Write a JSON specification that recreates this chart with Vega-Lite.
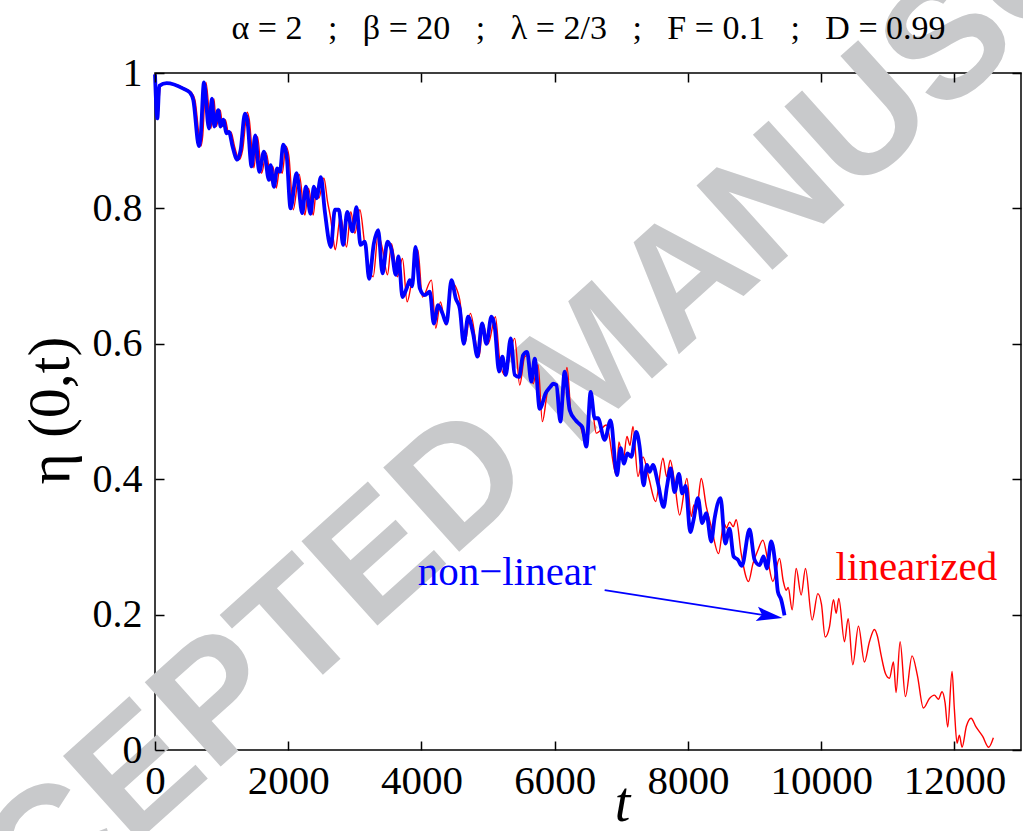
{
  "$schema": "https://vega.github.io/schema/vega-lite/v6.json",
  "width": 866,
  "height": 677,
  "autosize": {"type": "none"},
  "padding": {"left": 155, "top": 73, "right": 2, "bottom": 81},
  "background": "white",
  "config": {
    "view": {"stroke": "black", "strokeWidth": 1.5},
    "font": "Liberation Serif"
  },
  "datasets": {
    "linearized": [
      {"t":0,"eta":0.998},{"t":40,"eta":0.933},{"t":80,"eta":0.981},{"t":200,"eta":0.985},{"t":450,"eta":0.977},{"t":550,"eta":0.971},{"t":600,"eta":0.96},{"t":690,"eta":0.892},{"t":715,"eta":0.906},{"t":765,"eta":0.986},{"t":840,"eta":0.918},{"t":885,"eta":0.962},{"t":920,"eta":0.921},{"t":980,"eta":0.945},{"t":1015,"eta":0.921},{"t":1055,"eta":0.931},{"t":1105,"eta":0.911},{"t":1140,"eta":0.913},{"t":1195,"eta":0.891},{"t":1265,"eta":0.872},{"t":1315,"eta":0.886},{"t":1385,"eta":0.942},{"t":1415,"eta":0.931},{"t":1485,"eta":0.86},{"t":1540,"eta":0.906},{"t":1600,"eta":0.852},{"t":1670,"eta":0.882},{"t":1745,"eta":0.84},{"t":1770,"eta":0.862},{"t":1820,"eta":0.83},{"t":1870,"eta":0.857},{"t":1910,"eta":0.852},{"t":1965,"eta":0.892},{"t":2010,"eta":0.877},{"t":2075,"eta":0.798},{"t":2165,"eta":0.85},{"t":2250,"eta":0.79},{"t":2305,"eta":0.83},{"t":2375,"eta":0.79},{"t":2425,"eta":0.83},{"t":2460,"eta":0.815},{"t":2535,"eta":0.845},{"t":2590,"eta":0.81},{"t":2640,"eta":0.783},{"t":2670,"eta":0.76},{"t":2705,"eta":0.739},{"t":2785,"eta":0.788},{"t":2875,"eta":0.743},{"t":2940,"eta":0.795},{"t":3000,"eta":0.763},{"t":3075,"eta":0.798},{"t":3150,"eta":0.746},{"t":3275,"eta":0.699},{"t":3350,"eta":0.761},{"t":3415,"eta":0.74},{"t":3490,"eta":0.702},{"t":3550,"eta":0.748},{"t":3640,"eta":0.699},{"t":3715,"eta":0.726},{"t":3785,"eta":0.662},{"t":3850,"eta":0.69},{"t":3945,"eta":0.739},{"t":4015,"eta":0.669},{"t":4150,"eta":0.694},{"t":4215,"eta":0.623},{"t":4285,"eta":0.662},{"t":4365,"eta":0.628},{"t":4465,"eta":0.689},{"t":4575,"eta":0.665},{"t":4650,"eta":0.6},{"t":4735,"eta":0.645},{"t":4865,"eta":0.581},{"t":4925,"eta":0.63},{"t":5000,"eta":0.6},{"t":5110,"eta":0.64},{"t":5175,"eta":0.576},{"t":5250,"eta":0.554},{"t":5400,"eta":0.608},{"t":5475,"eta":0.539},{"t":5550,"eta":0.581},{"t":5600,"eta":0.583},{"t":5675,"eta":0.541},{"t":5750,"eta":0.569},{"t":5815,"eta":0.485},{"t":5900,"eta":0.532},{"t":6025,"eta":0.541},{"t":6100,"eta":0.502},{"t":6185,"eta":0.565},{"t":6250,"eta":0.495},{"t":6375,"eta":0.48},{"t":6475,"eta":0.455},{"t":6540,"eta":0.52},{"t":6625,"eta":0.468},{"t":6775,"eta":0.48},{"t":6925,"eta":0.406},{"t":6965,"eta":0.455},{"t":7025,"eta":0.426},{"t":7085,"eta":0.463},{"t":7130,"eta":0.45},{"t":7175,"eta":0.478},{"t":7250,"eta":0.404},{"t":7325,"eta":0.433},{"t":7415,"eta":0.401},{"t":7515,"eta":0.367},{"t":7625,"eta":0.431},{"t":7680,"eta":0.404},{"t":7735,"eta":0.428},{"t":7800,"eta":0.395},{"t":7875,"eta":0.347},{"t":7985,"eta":0.401},{"t":8050,"eta":0.345},{"t":8090,"eta":0.362},{"t":8130,"eta":0.355},{"t":8200,"eta":0.401},{"t":8275,"eta":0.36},{"t":8350,"eta":0.33},{"t":8460,"eta":0.29},{"t":8540,"eta":0.335},{"t":8580,"eta":0.328},{"t":8625,"eta":0.337},{"t":8680,"eta":0.33},{"t":8725,"eta":0.34},{"t":8800,"eta":0.29},{"t":8910,"eta":0.249},{"t":8975,"eta":0.275},{"t":9050,"eta":0.295},{"t":9125,"eta":0.31},{"t":9200,"eta":0.28},{"t":9275,"eta":0.249},{"t":9375,"eta":0.283},{"t":9430,"eta":0.25},{"t":9475,"eta":0.236},{"t":9505,"eta":0.24},{"t":9565,"eta":0.207},{"t":9625,"eta":0.268},{"t":9700,"eta":0.229},{"t":9765,"eta":0.268},{"t":9865,"eta":0.192},{"t":9950,"eta":0.231},{"t":10005,"eta":0.215},{"t":10060,"eta":0.167},{"t":10125,"eta":0.182},{"t":10185,"eta":0.222},{"t":10225,"eta":0.202},{"t":10265,"eta":0.224},{"t":10350,"eta":0.16},{"t":10405,"eta":0.194},{"t":10475,"eta":0.126},{"t":10560,"eta":0.183},{"t":10650,"eta":0.13},{"t":10725,"eta":0.16},{"t":10800,"eta":0.178},{"t":10845,"eta":0.168},{"t":10900,"eta":0.14},{"t":10965,"eta":0.113},{"t":11025,"eta":0.106},{"t":11085,"eta":0.13},{"t":11125,"eta":0.085},{"t":11185,"eta":0.16},{"t":11265,"eta":0.079},{"t":11365,"eta":0.139},{"t":11445,"eta":0.11},{"t":11535,"eta":0.062},{"t":11625,"eta":0.076},{"t":11700,"eta":0.081},{"t":11760,"eta":0.075},{"t":11815,"eta":0.086},{"t":11860,"eta":0.07},{"t":11900,"eta":0.034},{"t":11965,"eta":0.116},{"t":12000,"eta":0.06},{"t":12040,"eta":0.01},{"t":12075,"eta":0.022},{"t":12115,"eta":0.004},{"t":12180,"eta":0.035},{"t":12250,"eta":0.047},{"t":12325,"eta":0.034},{"t":12425,"eta":0.02},{"t":12515,"eta":0.004},{"t":12585,"eta":0.018}
    ],
    "nonlinear": [
      {"t":0,"eta":0.998},{"t":35,"eta":0.933},{"t":65,"eta":0.981},{"t":175,"eta":0.985},{"t":425,"eta":0.977},{"t":525,"eta":0.971},{"t":575,"eta":0.96},{"t":660,"eta":0.892},{"t":685,"eta":0.906},{"t":735,"eta":0.986},{"t":810,"eta":0.918},{"t":855,"eta":0.962},{"t":890,"eta":0.921},{"t":950,"eta":0.945},{"t":985,"eta":0.921},{"t":1025,"eta":0.931},{"t":1075,"eta":0.911},{"t":1110,"eta":0.913},{"t":1165,"eta":0.891},{"t":1235,"eta":0.872},{"t":1285,"eta":0.886},{"t":1350,"eta":0.94},{"t":1385,"eta":0.931},{"t":1450,"eta":0.862},{"t":1505,"eta":0.908},{"t":1565,"eta":0.854},{"t":1635,"eta":0.884},{"t":1710,"eta":0.842},{"t":1735,"eta":0.864},{"t":1785,"eta":0.832},{"t":1835,"eta":0.859},{"t":1875,"eta":0.854},{"t":1925,"eta":0.894},{"t":1975,"eta":0.879},{"t":2035,"eta":0.8},{"t":2125,"eta":0.852},{"t":2210,"eta":0.793},{"t":2265,"eta":0.832},{"t":2335,"eta":0.792},{"t":2385,"eta":0.832},{"t":2425,"eta":0.815},{"t":2490,"eta":0.846},{"t":2550,"eta":0.795},{"t":2640,"eta":0.743},{"t":2700,"eta":0.798},{"t":2760,"eta":0.798},{"t":2825,"eta":0.746},{"t":2885,"eta":0.795},{"t":2965,"eta":0.766},{"t":3025,"eta":0.802},{"t":3085,"eta":0.746},{"t":3150,"eta":0.751},{"t":3215,"eta":0.696},{"t":3285,"eta":0.748},{"t":3350,"eta":0.768},{"t":3415,"eta":0.704},{"t":3490,"eta":0.751},{"t":3550,"eta":0.739},{"t":3615,"eta":0.702},{"t":3655,"eta":0.729},{"t":3715,"eta":0.669},{"t":3785,"eta":0.684},{"t":3825,"eta":0.694},{"t":3860,"eta":0.685},{"t":3910,"eta":0.743},{"t":3975,"eta":0.682},{"t":4050,"eta":0.672},{"t":4125,"eta":0.677},{"t":4185,"eta":0.63},{"t":4250,"eta":0.657},{"t":4315,"eta":0.645},{"t":4375,"eta":0.63},{"t":4450,"eta":0.694},{"t":4515,"eta":0.667},{"t":4575,"eta":0.652},{"t":4635,"eta":0.6},{"t":4700,"eta":0.64},{"t":4775,"eta":0.615},{"t":4840,"eta":0.581},{"t":4910,"eta":0.63},{"t":4975,"eta":0.6},{"t":5050,"eta":0.64},{"t":5100,"eta":0.625},{"t":5165,"eta":0.559},{"t":5215,"eta":0.581},{"t":5265,"eta":0.554},{"t":5340,"eta":0.608},{"t":5400,"eta":0.554},{"t":5465,"eta":0.551},{"t":5525,"eta":0.583},{"t":5585,"eta":0.588},{"t":5650,"eta":0.544},{"t":5700,"eta":0.578},{"t":5775,"eta":0.504},{"t":5865,"eta":0.527},{"t":5940,"eta":0.537},{"t":5975,"eta":0.541},{"t":6025,"eta":0.539},{"t":6085,"eta":0.485},{"t":6150,"eta":0.559},{"t":6225,"eta":0.502},{"t":6315,"eta":0.487},{"t":6365,"eta":0.482},{"t":6415,"eta":0.477},{"t":6475,"eta":0.448},{"t":6540,"eta":0.529},{"t":6600,"eta":0.49},{"t":6650,"eta":0.49},{"t":6750,"eta":0.458},{"t":6840,"eta":0.487},{"t":6935,"eta":0.406},{"t":6990,"eta":0.446},{"t":7040,"eta":0.423},{"t":7090,"eta":0.438},{"t":7150,"eta":0.433},{"t":7225,"eta":0.47},{"t":7275,"eta":0.448},{"t":7335,"eta":0.391},{"t":7385,"eta":0.421},{"t":7425,"eta":0.411},{"t":7475,"eta":0.421},{"t":7550,"eta":0.394},{"t":7635,"eta":0.359},{"t":7685,"eta":0.389},{"t":7740,"eta":0.416},{"t":7800,"eta":0.381},{"t":7865,"eta":0.408},{"t":7915,"eta":0.379},{"t":7965,"eta":0.39},{"t":8035,"eta":0.322},{"t":8085,"eta":0.34},{"t":8150,"eta":0.372},{"t":8215,"eta":0.335},{"t":8275,"eta":0.35},{"t":8350,"eta":0.308},{"t":8400,"eta":0.342},{"t":8490,"eta":0.372},{"t":8560,"eta":0.305},{"t":8625,"eta":0.327},{"t":8685,"eta":0.286},{"t":8750,"eta":0.281},{"t":8810,"eta":0.272},{"t":8925,"eta":0.326},{"t":9000,"eta":0.281},{"t":9075,"eta":0.273},{"t":9135,"eta":0.286},{"t":9185,"eta":0.268},{"t":9250,"eta":0.308},{"t":9315,"eta":0.271},{"t":9350,"eta":0.234},{"t":9400,"eta":0.222},{"t":9450,"eta":0.199}
    ]
  },
  "resolve": {"axis": {"x": "independent", "y": "independent"}},
  "layer": [
    {
      "data": {"values": [{"t": 6600, "eta": 0.572, "label": "ACCEPTED MANUSCRIPT"}]},
      "mark": {"type": "text", "font": "Liberation Sans", "fontWeight": "bold", "fontSize": 165, "angle": -42, "color": "#c8c9cb", "align": "center", "baseline": "middle", "clip": false},
      "encoding": {
        "x": {"field": "t", "type": "quantitative", "scale": {"domain": [0, 13000], "nice": false, "zero": false}, "axis": null},
        "y": {"field": "eta", "type": "quantitative", "scale": {"domain": [0, 1], "nice": false}, "axis": null},
        "text": {"field": "label"}
      }
    },
    {
      "data": {"name": "linearized"},
      "mark": {"type": "line", "color": "#ff0000", "strokeWidth": 1.4, "interpolate": "monotone"},
      "encoding": {
        "x": {"field": "t", "type": "quantitative", "scale": {"domain": [0, 13000], "nice": false, "zero": false},
          "axis": {"orient": "bottom", "zindex": 1, "values": [0, 2000, 4000, 6000, 8000, 10000, 12000], "format": "d",
            "labelFont": "Liberation Serif", "labelFontSize": 41, "labelColor": "black", "labelPadding": 20,
            "labelFlush": false, "labelOverlap": false,
            "tickSize": -9, "tickColor": "black", "tickWidth": 1.5, "domain": false, "grid": false,
            "title": "t", "titleFont": "Liberation Serif", "titleFontStyle": "italic", "titleFontWeight": "normal",
            "titleFontSize": 56, "titleColor": "black", "titleX": 467, "titleY": 70, "titleAlign": "center", "titleBaseline": "alphabetic"}},
        "y": {"field": "eta", "type": "quantitative", "scale": {"domain": [0, 1], "nice": false},
          "axis": {"orient": "left", "zindex": 1, "values": [0, 0.2, 0.4, 0.6, 0.8, 1], "format": "~g",
            "labelFont": "Liberation Serif", "labelFontSize": 40, "labelColor": "black", "labelPadding": 22,
            "labelFlush": false, "labelOverlap": false,
            "tickSize": -9, "tickColor": "black", "tickWidth": 1.5, "domain": false, "grid": false,
            "title": "η (0,t)", "titleFont": "Liberation Serif", "titleFontWeight": "normal", "titleFontSize": 60,
            "titleColor": "black", "titleAngle": -90, "titleX": -105, "titleY": 337, "titleAlign": "center", "titleBaseline": "middle"}}
      }
    },
    {
      "data": {"name": "nonlinear"},
      "mark": {"type": "line", "color": "#0000ff", "strokeWidth": 3.8, "interpolate": "monotone"},
      "encoding": {
        "x": {"field": "t", "type": "quantitative", "scale": {"domain": [0, 13000], "nice": false, "zero": false},
          "axis": {"orient": "top", "zindex": 1, "values": [0, 2000, 4000, 6000, 8000, 10000, 12000], "labels": false,
            "tickSize": -9, "tickColor": "black", "tickWidth": 1.5, "domain": false, "grid": false,
            "title": "α = 2 \u00a0\u00a0; \u00a0\u00a0β = 20 \u00a0\u00a0; \u00a0\u00a0λ = 2/3 \u00a0\u00a0; \u00a0\u00a0F = 0.1 \u00a0\u00a0; \u00a0\u00a0D = 0.99",
            "titleFont": "Liberation Serif", "titleFontSize": 34, "titleFontWeight": "normal", "titleColor": "black",
            "titleX": 433, "titleY": -35, "titleAlign": "center", "titleBaseline": "alphabetic"}},
        "y": {"field": "eta", "type": "quantitative", "scale": {"domain": [0, 1], "nice": false},
          "axis": {"orient": "right", "zindex": 1, "values": [0, 0.2, 0.4, 0.6, 0.8, 1], "labels": false,
            "tickSize": -9, "tickColor": "black", "tickWidth": 1.5, "domain": false, "grid": false, "title": null}}
      }
    },
    {
      "data": {"values": [{"t": 6750, "eta": 0.236, "t2": 9280, "eta2": 0.197}]},
      "mark": {"type": "rule", "color": "#0000ff", "strokeWidth": 1.8},
      "encoding": {
        "x": {"field": "t", "type": "quantitative", "axis": null},
        "y": {"field": "eta", "type": "quantitative", "axis": null},
        "x2": {"field": "t2"},
        "y2": {"field": "eta2"}
      }
    },
    {
      "data": {"values": [{"t": 9420, "eta": 0.195}]},
      "mark": {"type": "point", "shape": "M0,0 L-2,-0.55 L-1.6,0 L-2,0.55 Z", "size": 676, "angle": 9, "filled": true, "color": "#0000ff", "opacity": 1},
      "encoding": {
        "x": {"field": "t", "type": "quantitative", "axis": null},
        "y": {"field": "eta", "type": "quantitative", "axis": null}
      }
    },
    {
      "data": {"values": [
        {"t": 5280, "eta": 0.261, "label": "non−linear", "series": "non-linear"},
        {"t": 11430, "eta": 0.269, "label": "linearized", "series": "linearized"}
      ]},
      "mark": {"type": "text", "font": "Liberation Serif", "fontSize": 41, "align": "center", "baseline": "middle"},
      "encoding": {
        "x": {"field": "t", "type": "quantitative", "axis": null},
        "y": {"field": "eta", "type": "quantitative", "axis": null},
        "text": {"field": "label"},
        "color": {"field": "series", "type": "nominal", "scale": {"domain": ["linearized", "non-linear"], "range": ["#ff0000", "#0000ff"]}, "legend": null}
      }
    }
  ]
}
